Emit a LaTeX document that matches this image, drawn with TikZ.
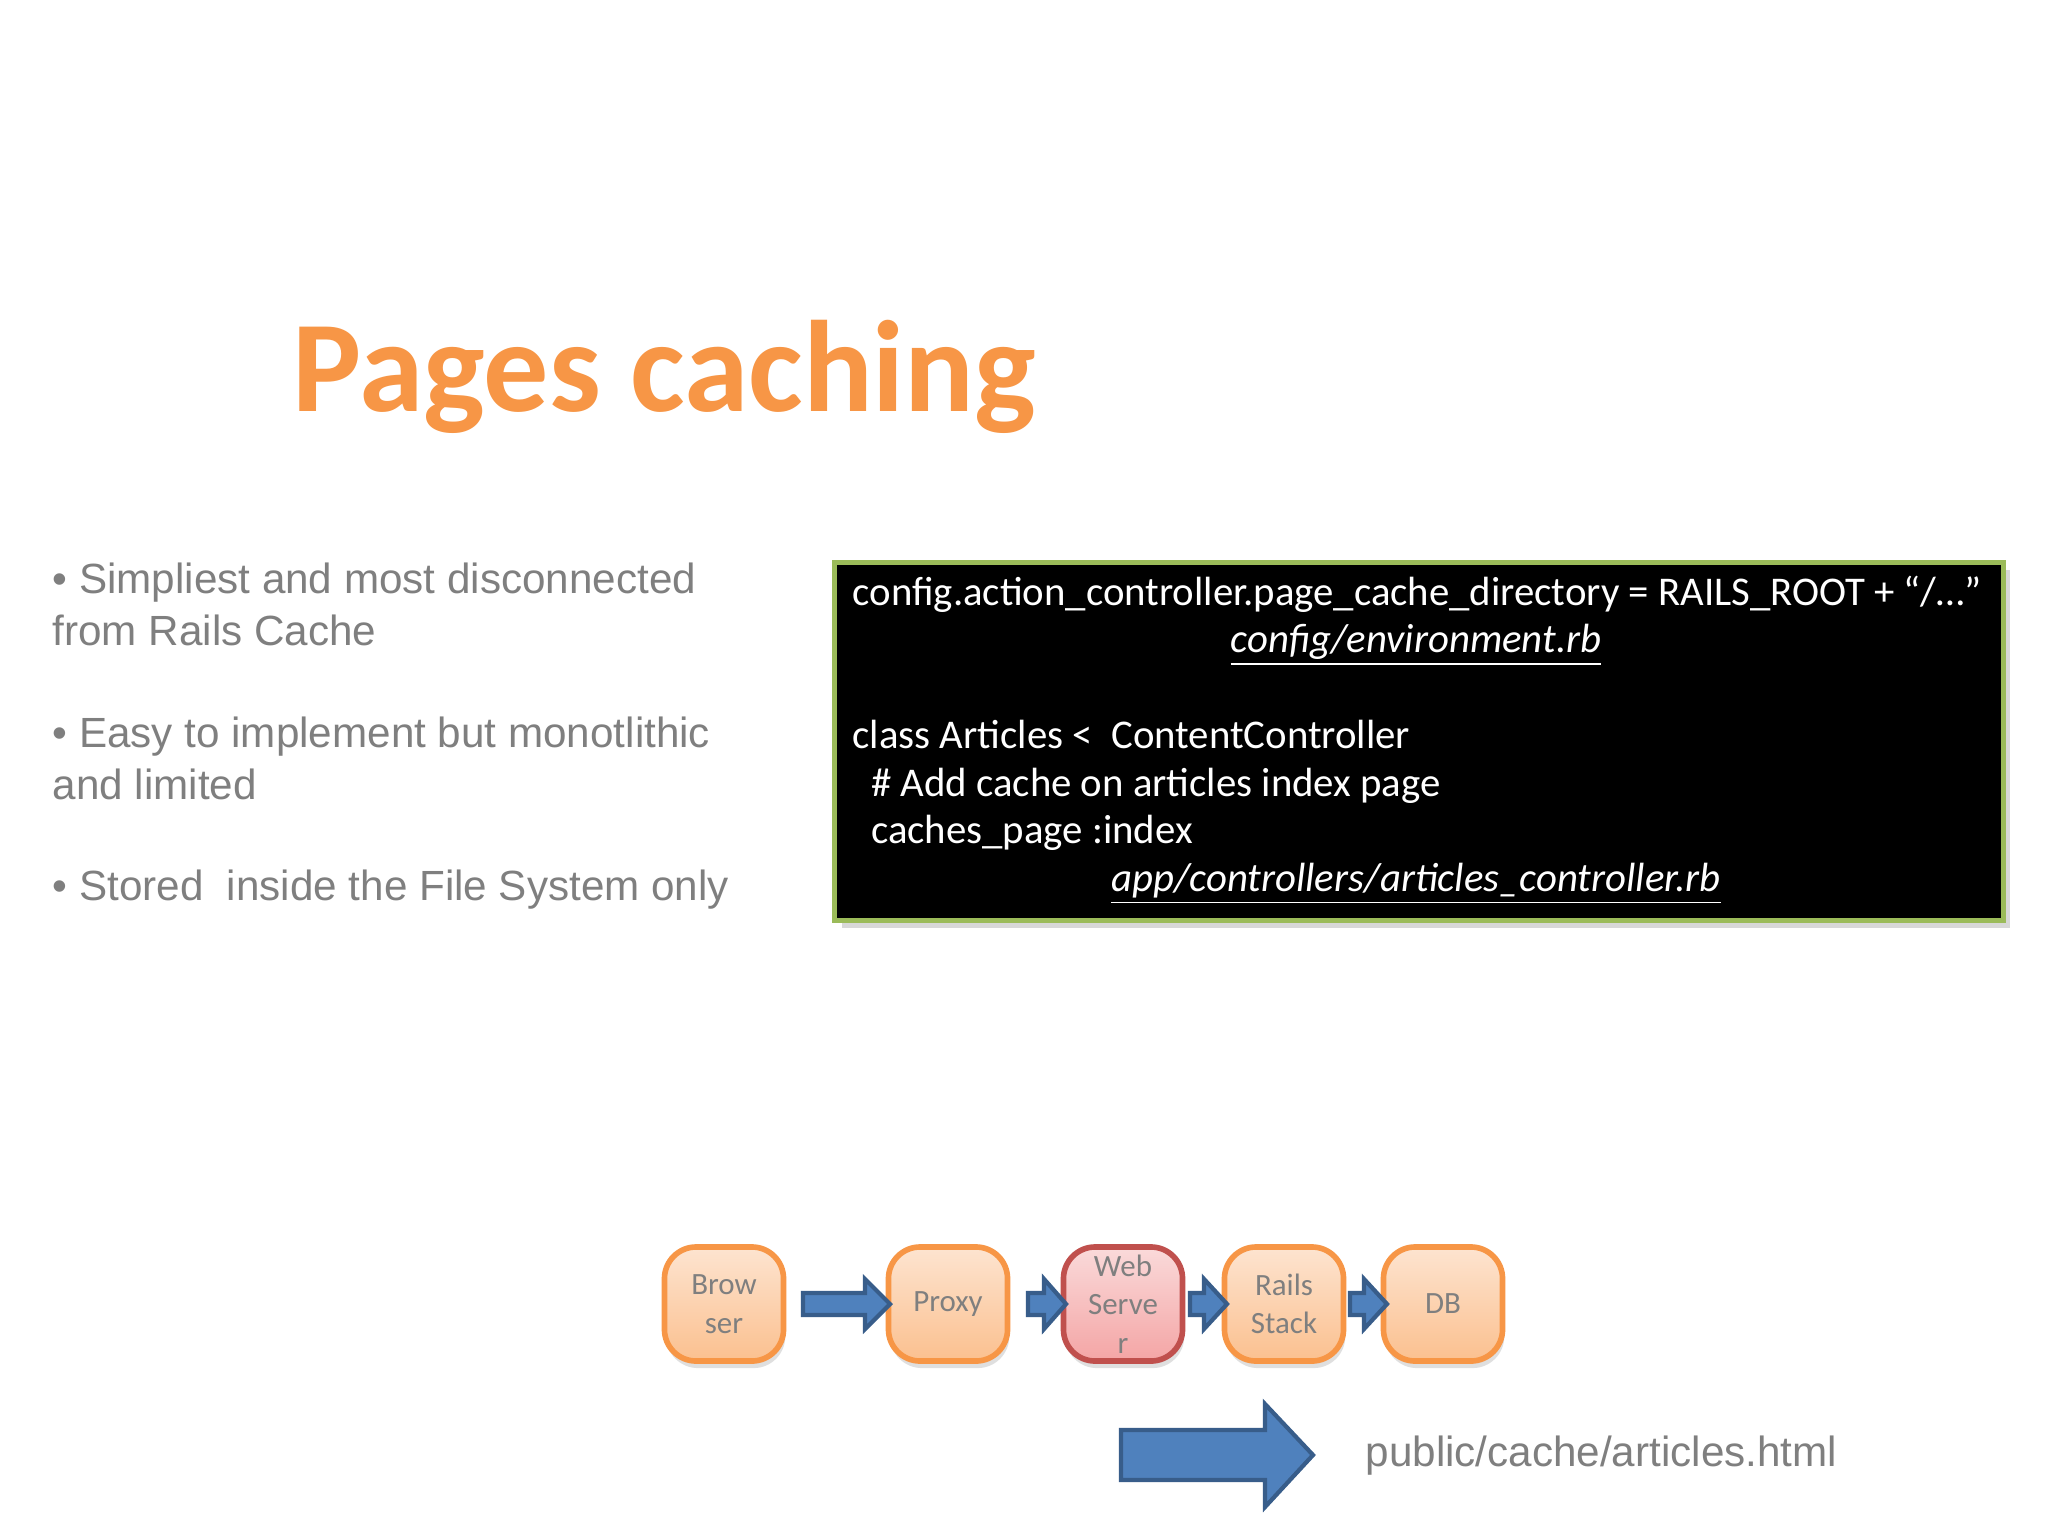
\documentclass[tikz,border=0pt]{standalone}
\usepackage{fontspec}
\setmainfont{Carlito}
\newfontfamily\arialf{Liberation Sans}
\usetikzlibrary{shadows}
\definecolor{ttl}{HTML}{F79646}
\definecolor{gry}{HTML}{7F7F7F}
\definecolor{grn}{HTML}{9BBB59}
\definecolor{obord}{HTML}{F79646}
\definecolor{otop}{HTML}{FDE4D0}
\definecolor{obot}{HTML}{FBC08F}
\definecolor{rbord}{HTML}{C0504D}
\definecolor{rtop}{HTML}{FADADA}
\definecolor{rbot}{HTML}{F4A5A5}
\definecolor{ablue}{HTML}{4F81BD}
\definecolor{abord}{HTML}{385D8A}
\begin{document}
\begin{tikzpicture}[x=0.01cm,y=-0.01cm,
  box/.style={draw=obord,line width=1.6pt,rounded corners=9pt,minimum width=1.19cm,minimum height=1.14cm,
    top color=otop,bottom color=obot,font=\fontsize{8.8}{11}\selectfont,text=gry,align=center,inner sep=1pt,
    drop shadow={opacity=0.25,shadow xshift=0.5pt,shadow yshift=-2pt}},
  rbox/.style={box,draw=rbord,top color=rtop,bottom color=rbot},
  blk/.style={fill=ablue,draw=abord,line width=1.2pt},
  bul/.style={anchor=base west,text=gry,font=\arialf\fontsize{12}{14}\selectfont,inner sep=0},
  code/.style={anchor=base west,text=white,font=\fontsize{11.6}{14}\selectfont,inner sep=0}]
\useasboundingbox[fill=white] (0,0) rectangle (2048,1536);
\node[anchor=base west,text=ttl,font=\bfseries\fontsize{37}{44}\selectfont,inner sep=0] (title) at (292,411) {Pages caching};
\node[bul] (b1) at (52,593) {• Simpliest and most disconnected};
\node[bul] (b1b) at (52,645) {from Rails Cache};
\node[bul] (b2) at (52,747) {• Easy to implement but monotlithic};
\node[bul] (b2b) at (52,799) {and limited};
\node[bul] (b3) at (52,900) {• Stored\ \ inside the File System only};
\node[draw=grn,line width=1.5pt,fill=black,minimum width=11.68cm,minimum height=3.58cm,anchor=north west,inner sep=0,
  drop shadow={opacity=0.3,shadow xshift=2pt,shadow yshift=-2pt}] (codebox) at (832,560) {};
\node[code] (c1) at (852,605) {config.action\_controller.page\_cache\_directory = RAILS\_ROOT + “/…”};
\node[code,anchor=base] (c2) at (1416,652) {\itshape\underline{config/environment.rb}};
\node[code] (c3) at (852,748) {class Articles <\ \ ContentController};
\node[code] (c4) at (852,796) {\ \ \# Add cache on articles index page};
\node[code] (c5) at (852,843) {\ \ caches\_page :index};
\node[code,anchor=base] (c6) at (1416,891) {\itshape\underline{app/controllers/articles\_controller.rb}};
\node[box] (br) at (724,1304) {Brow\\ser};
\node[box] (px) at (948,1304) {Proxy};
\node[rbox] (ws) at (1123,1304) {Web\\Serve\\r};
\node[box] (rs) at (1284,1304) {Rails\\Stack};
\node[box] (db) at (1443,1304) {DB};
% block arrows
\draw[blk] (803,1293) -- (865,1293) -- (865,1279) -- (890,1304) -- (865,1329) -- (865,1315) -- (803,1315) -- cycle;
\draw[blk] (1028,1293) -- (1044,1293) -- (1044,1279) -- (1066,1304) -- (1044,1329) -- (1044,1315) -- (1028,1315) -- cycle;
\draw[blk] (1190,1293) -- (1204,1293) -- (1204,1279) -- (1227,1304) -- (1204,1329) -- (1204,1315) -- (1190,1315) -- cycle;
\draw[blk] (1350,1293) -- (1364,1293) -- (1364,1279) -- (1387,1304) -- (1364,1329) -- (1364,1315) -- (1350,1315) -- cycle;
\draw[blk] (1121,1430) -- (1265,1430) -- (1265,1404) -- (1313,1455) -- (1265,1507) -- (1265,1480) -- (1121,1480) -- cycle;
\node[anchor=base west,text=gry,font=\arialf\fontsize{12}{14}\selectfont,inner sep=0] (pub) at (1365,1466) {public/cache/articles.html};
\end{tikzpicture}
\end{document}
